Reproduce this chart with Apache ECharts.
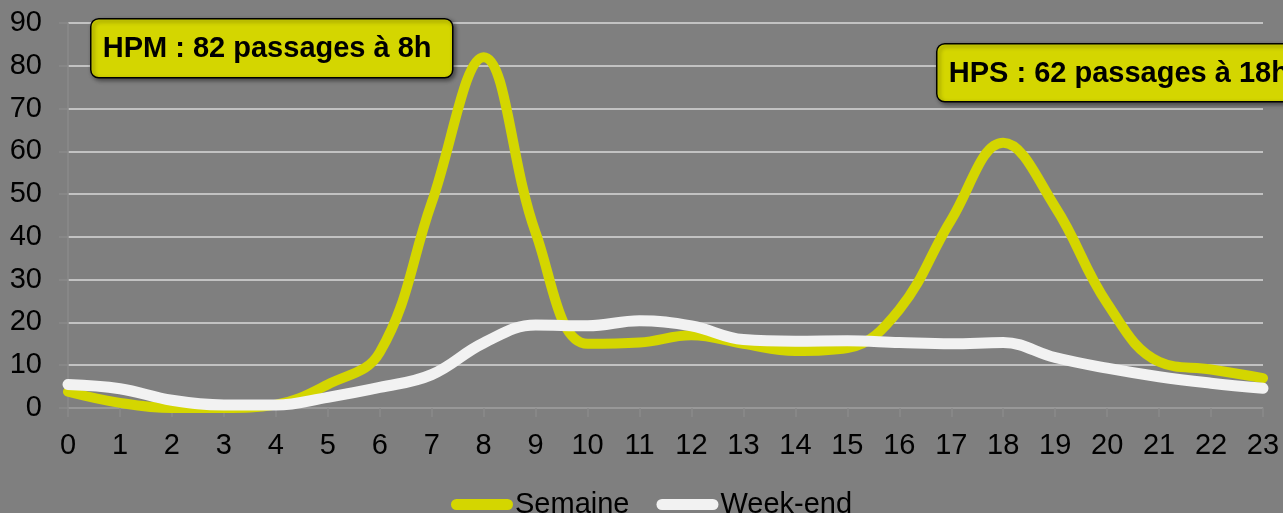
<!DOCTYPE html>
<html>
<head>
<meta charset="utf-8">
<script src="https://cdn.jsdelivr.net/npm/echarts@6/dist/echarts.min.js"></script>
<style>
  html, body { margin: 0; padding: 0; background: #7f7f7f; }
  #chart { width: 1283px; height: 513px; }
</style>
</head>
<body>
<div id="chart"></div>
<script>
// Hours of the day (x axis)
const hours = ['0','1','2','3','4','5','6','7','8','9','10','11','12','13','14','15','16','17','18','19','20','21','22','23'];
// Passages per hour
const semaine = [3.8, 1.2, 0, 0, 0.8, 5.5, 13, 48, 82, 41, 15, 15.3, 17, 15, 13.3, 14, 23, 44, 62, 47, 24.5, 10.8, 9, 7];
const weekEnd = [5.5, 4.5, 1.8, 0.7, 0.7, 2.5, 4.8, 7.8, 15.2, 19.4, 19.2, 20.4, 19.2, 16, 15.6, 15.7, 15.3, 15, 15.3, 11.8, 9.3, 7.3, 5.8, 4.6];
// Y axis range
const yMax = 90;
const yStep = 10;

// Peak annotations, built from the data
function peak(values, from, to) {
  let best = from;
  for (let i = from; i <= to; i++) if (values[i] > values[best]) best = i;
  return { value: values[best], hour: hours[best] };
}
const hpm = peak(semaine, 0, 12);
const hps = peak(semaine, 12, 23);

function calloutBox(x, y, w, h, text) {
  return {
    type: 'group',
    left: x,
    top: y,
    z: 100,
    children: [
      {
        type: 'rect',
        z: 100,
        shape: { x: 0, y: 0, width: w, height: h, r: 8 },
        style: {
          fill: '#d4d600', stroke: '#000', lineWidth: 1.5,
          shadowBlur: 4, shadowOffsetX: 2, shadowOffsetY: 2, shadowColor: 'rgba(0,0,0,0.45)'
        }
      },
      {
        type: 'text',
        z: 101,
        x: 12, y: h / 2 + 1,
        style: {
          text: text,
          font: 'bold 29px "Liberation Sans", Arial, sans-serif',
          fill: '#000',
          textVerticalAlign: 'middle'
        }
      }
    ]
  };
}

const chart = echarts.init(document.getElementById('chart'), null, { renderer: 'canvas' });
chart.setOption({
  backgroundColor: '#7f7f7f',
  animation: false,
  textStyle: { fontFamily: '"Liberation Sans", Arial, sans-serif' },
  grid: { left: 68, right: 20, top: 23, bottom: 105, containLabel: false },
  xAxis: {
    type: 'category',
    data: hours,
    boundaryGap: false,
    axisLine: { show: true, lineStyle: { color: '#8a8a8a', width: 1.5 } },
    axisTick: { show: true, length: 9, lineStyle: { color: '#8a8a8a', width: 1.5 } },
    axisLabel: { color: '#000', fontSize: 29, margin: 23 },
    splitLine: { show: false }
  },
  yAxis: {
    type: 'value',
    min: 0, max: yMax, interval: yStep,
    axisLine: { show: true, lineStyle: { color: '#8a8a8a', width: 1.5 } },
    axisTick: { show: true, length: 9, lineStyle: { color: '#8a8a8a', width: 1.5 } },
    axisLabel: { color: '#000', fontSize: 29, margin: 26 },
    splitLine: { show: true, lineStyle: { color: '#d9d9d9', width: 1.5 } }
  },
  legend: {
    bottom: -11,
    left: 446,
    itemWidth: 62,
    itemHeight: 11,
    itemGap: 27,
    icon: 'path://M5.5,0 H56.5 A5.5,5.5 0 0 1 56.5,11 H5.5 A5.5,5.5 0 0 1 5.5,0 Z',
    textStyle: { color: '#000', fontSize: 29, padding: [0, 0, 0, -3] },
    data: ['Semaine', 'Week-end']
  },
  series: [
    {
      name: 'Semaine', type: 'line', data: semaine, smooth: 0.4,
      showSymbol: false, symbol: 'none',
      lineStyle: { color: '#d4d600', width: 10, cap: 'round', join: 'round' },
      itemStyle: { color: '#d4d600' }
    },
    {
      name: 'Week-end', type: 'line', data: weekEnd, smooth: 0.4,
      showSymbol: false, symbol: 'none',
      lineStyle: { color: '#f2f2f2', width: 11, cap: 'round', join: 'round' },
      itemStyle: { color: '#f2f2f2' }
    }
  ],
  graphic: [
    calloutBox(90, 18, 362, 59, `HPM : ${hpm.value} passages à ${hpm.hour}h`),
    calloutBox(936, 43, 400, 58, `HPS : ${hps.value} passages à ${hps.hour}h`)
  ]
});
</script>
</body>
</html>
